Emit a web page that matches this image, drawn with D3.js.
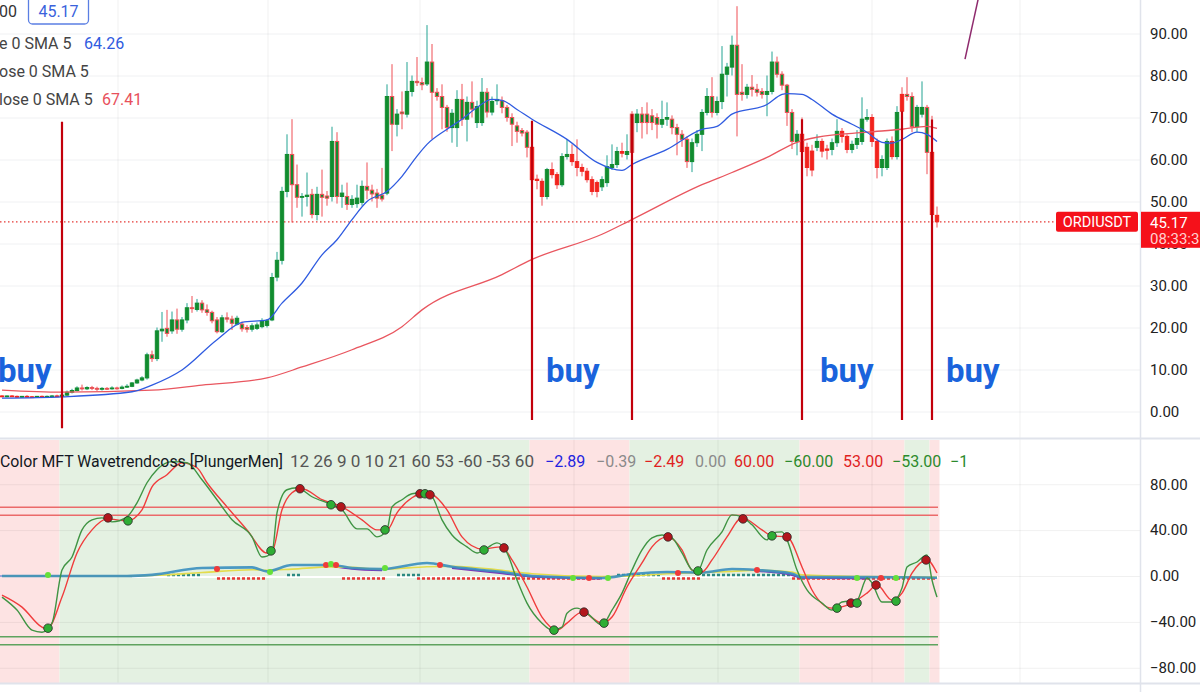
<!DOCTYPE html>
<html><head><meta charset="utf-8">
<script src="https://cdn.jsdelivr.net/npm/d3@7"></script>
<style>
html,body{margin:0;padding:0;background:#fff;overflow:hidden;}
svg{display:block;font-family:Roboto,"Liberation Sans",Arial,sans-serif;}
</style></head><body>
<svg id="c" width="1200" height="692"></svg>
<script>
// ---------------- DATA ----------------
const symbol = "ORDIUSDT";
const lastPrice = 45.17;
const countdown = "08:33:3";
const smaFastLast = 64.26, smaSlowLast = 67.41;
const priceTicks = [0,10,20,30,40,50,60,70,80,90];
const oscTicks = [-80,-40,0,40,80];
const timeGridIdx = [23.2,53.2,83.6,114.4,143.2,174,203.6];

const open  = [3.7,3.6,3.7,3.6,3.5,3.6,3.5,3.4,3.6,3.5,3.6,3.7,3.6,3.9,4.6,5.0,5.6,5.4,5.7,5.5,5.3,5.5,5.4,5.6,5.5,5.8,6.0,6.8,7.5,8.0,
13.5,12.6,19.2,19.8,19.2,21.8,19.6,21.8,24.7,24.3,25.8,24.2,23.6,21.8,19.0,22.3,22.0,20.8,20.8,20.0,19.6,19.8,20.2,20.5,21.8,32.0,36.0,52.4,61.2,54.0,
51.0,51.2,51.7,46.9,51.7,51.3,51.2,64.3,51.2,51.2,49.3,49.5,49.8,53.6,52.7,52.0,51.5,52.0,75.0,68.4,71.3,70.8,76.2,78.6,78.3,78.0,83.2,76.0,75.0,72.4,
67.6,67.6,74.3,69.6,73.6,68.8,68.8,76.0,71.3,74.0,74.0,72.4,70.0,68.0,66.9,66.5,62.9,55.3,54.8,51.2,57.6,56.4,54.0,60.7,61.2,59.5,58.1,57.2,55.2,54.5,
53.5,54.5,58.1,58.8,61.9,61.2,70.8,68.8,70.8,70.8,70.4,70.0,68.4,69.6,69.6,67.6,66.0,64.8,59.5,64.0,66.0,71.2,75.0,71.2,73.8,80.3,82.0,87.2,76.0,75.5,
77.2,76.7,76.2,75.5,76.2,83.2,80.3,77.7,71.2,64.3,66.0,62.9,62.0,62.9,64.3,62.5,62.4,64.0,66.7,65.5,62.4,63.6,64.3,69.6,70.0,64.3,58.1,58.1,64.3,60.7,
75.5,75.5,75.0,67.8,70.8,72.4,61.7,46.7];
const high  = [3.9,3.8,3.9,3.8,3.7,3.9,3.7,3.7,3.8,3.8,3.9,4.0,6.3,5.0,5.4,6.0,6.4,6.0,6.1,5.9,5.8,5.8,6.0,5.9,6.2,6.5,7.0,7.8,8.4,14.0,
14.5,20.0,23.7,24.2,23.8,24.5,22.5,25.8,27.5,26.8,26.5,25.5,24.0,22.5,23.0,23.6,22.8,22.8,21.4,20.6,21.0,21.2,22.2,22.0,33.0,38.0,53.5,66.0,69.6,58.8,
52.0,56.9,53.0,53.5,57.6,52.5,67.8,66.5,54.0,54.5,51.5,54.0,55.0,59.3,54.0,53.0,58.0,77.9,82.7,72.0,76.2,83.2,80.0,84.4,79.5,92.0,87.5,77.0,77.9,73.0,
72.0,76.5,78.0,75.0,78.6,74.0,79.4,77.0,75.0,77.9,75.0,73.0,71.0,69.0,67.5,67.0,63.5,56.4,55.5,58.0,59.3,57.0,61.5,64.8,63.6,64.8,59.0,58.0,56.0,55.0,
56.0,61.0,63.6,63.0,64.0,66.0,71.5,72.0,72.5,73.6,72.0,71.0,74.0,73.6,70.5,68.5,67.0,65.5,65.0,67.0,72.0,77.0,79.6,75.0,87.0,83.0,89.5,96.5,82.7,78.0,
80.1,78.0,77.0,80.0,85.7,84.5,81.0,78.0,72.0,67.0,70.0,64.0,63.5,66.0,65.0,63.5,65.0,69.6,67.5,66.0,64.5,67.0,74.8,72.0,70.8,65.0,61.0,65.0,65.5,72.7,
77.2,79.6,76.0,73.0,78.6,73.0,70.4,48.8];
const low   = [3.4,3.4,3.5,3.3,3.3,3.4,3.2,3.3,3.4,3.3,3.4,3.5,2.7,3.7,4.3,4.8,5.0,5.1,5.1,4.9,5.0,5.1,5.2,5.2,5.3,5.6,5.8,6.6,7.2,7.6,
11.8,12.0,16.6,17.8,18.5,18.5,19.0,21.0,23.5,23.8,23.5,22.8,21.0,18.6,18.7,21.2,19.4,20.5,19.0,18.8,19.0,19.4,19.8,20.0,21.5,31.0,35.0,51.0,45.0,48.5,
46.4,48.8,46.0,45.5,46.4,49.0,50.0,49.5,48.5,48.0,48.5,48.5,49.0,50.5,50.0,48.5,50.0,51.5,62.0,65.5,67.2,70.0,75.0,77.5,76.5,77.5,64.8,74.0,67.2,66.6,
64.0,63.0,68.0,64.3,70.0,67.5,68.0,70.0,70.5,73.0,71.0,69.0,63.2,64.0,65.5,60.5,54.5,52.9,49.0,50.5,55.5,53.0,53.5,60.0,58.5,56.0,56.0,54.5,51.5,51.0,
52.5,53.5,57.5,58.0,60.5,60.0,61.0,66.5,65.0,66.0,67.0,65.0,67.5,68.0,66.0,61.0,63.0,58.0,57.0,63.0,62.0,70.5,70.0,70.5,72.0,75.0,80.0,65.5,74.0,74.5,
75.0,75.0,74.5,70.3,75.5,79.5,76.5,68.0,62.5,61.0,55.5,56.0,56.0,62.0,60.5,60.0,61.0,63.0,64.0,61.5,61.5,62.5,63.5,69.0,63.0,55.5,56.0,57.5,60.0,60.0,
70.0,74.0,66.5,66.5,70.0,56.5,46.0,43.8];
const close = [3.6,3.7,3.6,3.5,3.6,3.5,3.4,3.6,3.5,3.6,3.7,3.6,3.9,4.6,5.0,5.6,5.4,5.7,5.5,5.3,5.5,5.4,5.6,5.5,5.8,6.0,6.8,7.5,8.0,13.5,
12.6,19.2,19.6,18.6,21.8,19.6,21.8,24.7,24.5,25.8,24.2,23.6,21.6,19.0,22.3,22.0,21.0,22.2,19.7,19.6,20.4,20.6,21.5,21.6,31.9,36.0,52.4,61.2,54.0,51.0,
51.2,51.5,46.9,51.7,51.0,50.8,64.3,51.2,52.0,49.3,50.5,50.8,53.6,52.7,51.8,50.8,50.6,75.0,68.4,70.8,70.9,76.2,78.6,78.3,77.8,83.2,76.0,75.0,72.4,67.6,
71.0,74.3,69.6,73.6,72.0,72.6,76.0,71.3,73.8,74.3,72.4,70.0,68.4,66.7,66.3,62.9,55.2,55.0,51.2,57.6,56.4,54.0,60.7,61.2,59.5,58.1,57.2,55.2,52.4,52.4,
55.2,58.3,58.8,61.9,61.5,61.9,61.7,70.8,68.8,68.8,68.8,68.4,69.5,70.0,67.6,66.0,64.8,59.5,64.0,66.0,71.2,75.0,71.2,73.8,80.3,82.0,87.2,75.5,75.5,77.2,
76.7,76.0,75.5,76.2,83.2,80.3,77.7,71.2,64.3,66.0,61.9,58.1,57.5,64.3,62.0,62.2,64.0,66.7,65.5,62.4,63.6,65.0,69.6,70.0,64.3,58.1,60.0,64.3,60.7,71.2,
71.5,75.0,67.8,72.4,72.4,61.7,46.9,45.17];

// trend regime (zone switches, candle index) and buy markers
const zoneStart = [0,12,106,126,160,181,186];
const zoneType  = ["bear","bull","bear","bull","bear","bull","bear"];
const buyIdx    = [12,106,126,160,180,186];
const buyTop    = [69.0,69.2,70.8,69.6,71.5,69.5];
const buyBottom = [-4,-2,-2,-2,-2,-2];
const buyLabelIdx = [-0.8,108.8,163.6,188.8];

// moving averages (sampled at candle indices)
const smaFastIdx = [0,12,26,30,36,43,48,53,56,60,64,67,70,73,77,80,83,85,89,92,95,98,100,103,106,113,119,124,126,133,140,143,146,153,156,157,160,162,166,170,173,176,178,180,183,185,187];
const smaFastVal = [3.2,3.5,4.7,6.3,9.9,17.1,21.2,21.8,25.8,30.6,37.3,40.9,45.7,50.0,52.4,56.0,60.8,63.6,67.2,69.6,72.4,74.3,74.1,71.9,69.6,64.8,59.3,57.4,58.8,62.4,67.2,67.9,70.8,73.1,75.5,75.7,75.5,74.3,70.8,68.4,66.5,64.1,63.9,64.8,66.5,66.0,64.3];
const smaSlowIdx = [0,12,30,40,53,60,70,80,84,100,106,120,126,140,146,153,159,163,173,180,185,187];
const smaSlowVal = [5.1,4.6,5.1,6.3,8.0,10.6,14.7,20.2,24.2,32.6,36.2,42.2,45.7,54.0,56.9,60.5,64.1,65.3,66.5,67.2,67.9,67.4];

// user trend line (candle index, price)
const trendIdx = [192.6,195.2];
const trendVal = [83.9,98.0];

// oscillator: WaveTrend lines
const wt1Idx = [0,3,6,8,10,12,14,16,18,20,22,25,27,29,31,34,37,40,43,46,50,52,54,55,57,59,62,66,68,71,73,75,77,78,80,82,84,86,88,90,93,95,97,99,101,103,105,108,110,112,113,115,117,120,122,124,126,128,130,132,134,136,138,139,141,144,146,148,150,153,154,156,157,159,161,164,166,168,171,173,174,176,178,180,181,183,185,186,187];
const wt1Val = [-18.4,-29.7,-47.2,-49,-41,5.2,16.6,40.2,49,50.7,47.2,51.6,63.8,81.3,92.7,99.7,98.8,83.9,66.5,49,34.1,16.6,20.1,55.1,75.2,76.9,69.1,62.1,57.7,41.1,41.1,34.1,40.2,60.3,66.5,71.7,72.6,69.1,49,35.8,25.4,20.1,24.5,28.9,20.1,-3.5,-23.6,-41.1,-47.2,-44.6,-32.4,-28,-32.4,-42.8,-29.7,-14.9,5.2,22.7,33.2,35.8,33.2,20.1,5.2,3.5,22.7,38.5,53.3,51.6,44.6,31.5,37.6,38.5,31.5,5.2,-12.2,-23.6,-29.7,-22.7,-21,-1.7,-6.1,-22.7,-22.7,-10.5,7.9,12.2,18.4,-3.5,-18.4];
const wt2Idx = [0,4,8,9,12,15,18,21,25,28,30,33,36,39,41,45,49,53,54,56,58,60,64,68,72,75,77,79,82,84,86,89,92,96,100,102,105,108,111,113,116,120,122,125,128,130,133,136,138,140,142,145,148,152,154,157,160,162,166,170,173,175,178,180,182,185,187];
const wt2Val = [-16.6,-27.1,-44.6,-46.3,-18.4,20.1,40.2,49.8,48.1,57.7,77.8,88.3,98.8,94.4,81.3,60.3,40.2,20.1,21,57.7,72.6,76.1,66.5,60.3,49,40.2,40.2,55.1,68.2,71.7,70.8,57.7,34.1,23.6,25.4,14,-9.6,-35.8,-47.2,-41.1,-31.5,-41.1,-35.8,-9.6,11.4,25.4,34.1,22.7,5.2,3.5,14,34.1,50.7,40.2,35,34.1,7.9,-12.2,-28,-23.6,-14.9,-7.9,-21,-14.9,2.6,14,2.6];
const crossIdx  = [9.2,21.2,25.2,53.8,59.6,65.8,67.8,76.6,83.6,84.6,85.6,96.4,100.4,110.4,116.4,120.4,133.2,139.2,148.2,154,157,167,169.8,171,174.8,178.8,184.8];
const crossVal  = [-45.5,50.7,48.1,21.9,76.1,62.1,60.3,40.2,71.7,71.7,70.8,22.7,24.5,-47.2,-31.5,-41.1,34.1,4.4,49.8,35,34.1,-28,-23.6,-23.6,-7.9,-21.9,14];
const crossType = ["up","dn","up","up","dn","up","dn","up","dn","up","dn","up","dn","up","dn","up","dn","up","dn","up","dn","up","dn","up","dn","up","dn"];
const obLevels = [60,53];
const osLevels = [-53,-60];

// oscillator: money-flow lines near zero
const mfIdx    = [0,25,30,40,50,53,58,66,70,76,85,90,100,106,120,126,133,140,146,151,158,160,173,187];
const mfTeal   = [0,0,1,7,7.5,4,9.6,9.6,7,6,11.4,8,3.5,0,-1.7,1.7,3.5,3,6.1,5.2,2,-1,-1,-1.5];
const mfYellow = [0,0,0.5,3,5.5,5,6,8,7.5,6,8,8.5,5,2,-0.5,0,2,3,4,5,3.5,1,-0.5,-1];
const mfPurple = [null,null,null,null,null,null,null,8.5,6.5,5,null,7,2.5,-0.5,-2,null,null,null,null,4.5,1,-1.5,-2,null];
const mfSigIdx  = [9.2,43,53.6,64.8,65.8,66.8,76.6,87.6,114.2,117.4,121.2,135.2,151,171,175.8,178.8];
const mfSigVal  = [0.9,6.1,3.5,9.6,10.5,9.6,7,9.6,-1.7,-1.7,-1.7,2.6,5.2,-1.7,-1.7,-1.7];
const mfSigType = ["up","dn","up","dn","up","dn","up","dn","up","dn","up","dn","dn","up","dn","up"];
const histFrom = [33,43,57,68,79,83,123,132,140,158];
const histTo   = [40,53,60,77,84,120,132,140,158,187];
const histSign = [1,-1,1,-1,1,-1,1,-1,1,-1];

// legends
const smaLegend = ["e 0 SMA 5","ose 0 SMA 5","lose 0 SMA 5"];
const oscName = "Color MFT Wavetrendcoss [PlungerMen]";
const oscParams = "12 26 9 0 10 21 60 53 -60 -53 60";
const oscValues = ["\u22122.89","\u22120.39","\u22122.49","0.00","60.00","\u221260.00","53.00","\u221253.00","\u22121"];
const oscValueKind = ["blue","gray","red","gray","red","green","red","green","green"];

// ---------------- DRAW ----------------
const svg = d3.select("#c");
const x  = d3.scaleLinear().domain([0,187]).range([2,937]);
const y  = d3.scaleLinear().domain([0,90]).range([411.5,33.5]);
const yo = d3.scaleLinear().domain([-80,80]).range([667.75,484.25]);
const fmt = d3.format(".2f");
const PLOT_R = 1140;

svg.append("rect").attr("width",1200).attr("height",692).attr("fill","#fff");

// oscillator background bands
const zoneEnd = zoneStart.slice(1).concat([188]);
svg.append("g").selectAll("rect").data(zoneStart).join("rect")
  .attr("x", d => Math.max(0, x(d) - 2.5))
  .attr("width", (d,k) => x(zoneEnd[k]) - 2.5 - Math.max(0, x(d) - 2.5))
  .attr("y", 440).attr("height", 243)
  .attr("fill", (d,k) => zoneType[k] === "bull" ? "#e4f1e2" : "#fde3e3");

// grid: horizontal
svg.append("g").attr("transform",`translate(${PLOT_R},0)`)
  .call(d3.axisLeft(y).tickValues(priceTicks).tickSize(PLOT_R).tickFormat(""))
  .call(g => g.select(".domain").remove())
  .selectAll("line").attr("stroke","#f0f1f3");
svg.append("g").attr("transform",`translate(${PLOT_R},0)`)
  .call(d3.axisLeft(yo).tickValues(oscTicks).tickSize(PLOT_R).tickFormat(""))
  .call(g => g.select(".domain").remove())
  .selectAll("line").attr("stroke","rgba(0,0,0,0.06)");
// grid: vertical (time)
svg.append("g").selectAll("line").data(timeGridIdx).join("line")
  .attr("x1", d => x(d)).attr("x2", d => x(d)).attr("y1", 0).attr("y2", 683)
  .attr("stroke","rgba(0,0,0,0.06)");

// pane separators & axis border
svg.append("line").attr("x1",0).attr("x2",1200).attr("y1",438.5).attr("y2",438.5).attr("stroke","#e0e3eb").attr("stroke-width",2);
svg.append("line").attr("x1",0).attr("x2",1200).attr("y1",683.5).attr("y2",683.5).attr("stroke","#e0e3eb").attr("stroke-width",2);
svg.append("line").attr("x1",PLOT_R+0.5).attr("x2",PLOT_R+0.5).attr("y1",0).attr("y2",692).attr("stroke","#e0e3eb").attr("stroke-width",1.5);

// right axes
function styleAxis(g){
  g.select(".domain").remove();
  g.selectAll("text").attr("font-size","15px").attr("fill","#222").attr("font-family","Roboto, 'Liberation Sans', sans-serif");
}
svg.append("g").attr("transform",`translate(${PLOT_R},0)`)
  .call(d3.axisRight(y).tickValues(priceTicks).tickFormat(fmt).tickSize(0).tickPadding(10)).call(styleAxis);
svg.append("g").attr("transform",`translate(${PLOT_R},0)`)
  .call(d3.axisRight(yo).tickValues(oscTicks).tickFormat(fmt).tickSize(0).tickPadding(10)).call(styleAxis);
svg.append("text").attr("x",1150).attr("y",yo(-80)+45).attr("font-size","15px").attr("fill","#222").text("200.00");

// price line
svg.append("line").attr("x1",0).attr("x2",1056).attr("y1",y(lastPrice)).attr("y2",y(lastPrice))
  .attr("stroke","#e53935").attr("stroke-width",1.2).attr("stroke-dasharray","1.5,2.5");

// candles
const idx = d3.range(close.length);
function zoneOf(i){ let k=0; for(let j=0;j<zoneStart.length;j++){ if(i>=zoneStart[j]) k=j; } return zoneType[k]; }
const GREEN="#118c2f", GWICK="#23a392", RED="#f2231d", RWICK="#ef4f55";
const cg = svg.append("g");
cg.selectAll("line").data(idx).join("line")
  .attr("x1", i => x(i)).attr("x2", i => x(i))
  .attr("y1", i => y(high[i])).attr("y2", i => y(low[i]))
  .attr("stroke", i => close[i] >= open[i] ? GWICK : RWICK).attr("stroke-width",1);
cg.selectAll("rect").data(idx).join("rect")
  .attr("x", i => x(i) - 1.7).attr("width", 3.4)
  .attr("y", i => y(Math.max(open[i], close[i])))
  .attr("height", i => Math.max(0.8, Math.abs(y(open[i]) - y(close[i]))))
  .attr("fill", i => close[i] >= open[i] ? GREEN : (zoneOf(i) === "bull" ? GREEN : RED))
  .attr("stroke", i => close[i] >= open[i] ? GREEN : (zoneOf(i) === "bull" ? RWICK : RED))
  .attr("stroke-width", 1);

// SMAs
const smaLine = d3.line().curve(d3.curveMonotoneX);
svg.append("path").attr("d", smaLine(smaSlowIdx.map((d,k)=>[x(d), y(smaSlowVal[k])])))
  .attr("fill","none").attr("stroke","#e9565f").attr("stroke-width",1.3);
svg.append("path").attr("d", smaLine(smaFastIdx.map((d,k)=>[x(d), y(smaFastVal[k])])))
  .attr("fill","none").attr("stroke","#2f5be0").attr("stroke-width",1.3);

// buy lines & labels
svg.append("g").selectAll("line").data(buyIdx).join("line")
  .attr("x1", d => x(d)).attr("x2", d => x(d))
  .attr("y1", (d,k) => y(buyTop[k])).attr("y2", (d,k) => y(buyBottom[k]))
  .attr("stroke","#c2000b").attr("stroke-width",2.2);
svg.append("g").selectAll("text").data(buyLabelIdx).join("text")
  .attr("x", d => x(d)).attr("y", 382)
  .attr("font-size","33px").attr("font-weight","bold").attr("fill","#1a63dc").text("buy");

// trend line
svg.append("line").attr("x1", x(trendIdx[0])).attr("y1", y(trendVal[0]))
  .attr("x2", x(trendIdx[1])).attr("y2", y(trendVal[1]))
  .attr("stroke","#8e2a6d").attr("stroke-width",1.5);

// oscillator levels
svg.append("g").selectAll("line").data(obLevels).join("line")
  .attr("x1",0).attr("x2",938).attr("y1", d => yo(d)).attr("y2", d => yo(d))
  .attr("stroke","#eb6a6a").attr("stroke-width",1.6);
svg.append("g").selectAll("line").data(osLevels).join("line")
  .attr("x1",0).attr("x2",938).attr("y1", d => yo(d)).attr("y2", d => yo(d))
  .attr("stroke","#5fa35f").attr("stroke-width",1.6);

// zero baseline
svg.append("line").attr("x1",0).attr("x2",x(26)).attr("y1",yo(0)).attr("y2",yo(0)).attr("stroke","#9aa4dc").attr("stroke-width",2);
svg.append("line").attr("x1",x(26)).attr("x2",938).attr("y1",yo(0)+1).attr("y2",yo(0)+1).attr("stroke","#ffffff").attr("stroke-width",2);
// histogram dashes
svg.append("g").selectAll("line").data(histFrom).join("line")
  .attr("x1", d => x(d)).attr("x2", (d,k) => x(histTo[k]))
  .attr("y1", (d,k) => histSign[k] > 0 ? yo(0) - 1 : yo(0) + 2.5)
  .attr("y2", (d,k) => histSign[k] > 0 ? yo(0) - 1 : yo(0) + 2.5)
  .attr("stroke", (d,k) => histSign[k] > 0 ? "#2c8a82" : "#e53935")
  .attr("stroke-width", 2.5).attr("stroke-dasharray","3,2");

// money flow lines
const mfLine = d3.line().defined(d => d[1] !== null).curve(d3.curveMonotoneX)
  .x(d => x(d[0])).y(d => yo(d[1]));
svg.append("path").attr("d", mfLine(mfIdx.map((d,k)=>[d, mfPurple[k]])))
  .attr("fill","none").attr("stroke","#7b35b8").attr("stroke-width",2.2);
svg.append("path").attr("d", mfLine(mfIdx.map((d,k)=>[d, mfYellow[k]])))
  .attr("fill","none").attr("stroke","#e4dc4c").attr("stroke-width",1.6);
svg.append("path").attr("d", mfLine(mfIdx.map((d,k)=>[d, mfTeal[k]])))
  .attr("fill","none").attr("stroke","#3a8fbf").attr("stroke-width",2.6).attr("opacity",0.9);
svg.append("g").selectAll("circle").data(mfSigIdx).join("circle")
  .attr("cx", d => x(d)).attr("cy", (d,k) => yo(mfSigVal[k])).attr("r", 3)
  .attr("fill", (d,k) => mfSigType[k] === "up" ? "#66e03a" : "#f03a3a");

// wavetrend lines
const wtLine = d3.line().curve(d3.curveMonotoneX);
svg.append("path").attr("d", wtLine(wt2Idx.map((d,k)=>[x(d), yo(wt2Val[k])])))
  .attr("fill","none").attr("stroke","#f03c3c").attr("stroke-width",1.4);
svg.append("path").attr("d", wtLine(wt1Idx.map((d,k)=>[x(d), yo(wt1Val[k])])))
  .attr("fill","none").attr("stroke","#3f9443").attr("stroke-width",1.4);
svg.append("g").selectAll("circle").data(crossIdx).join("circle")
  .attr("cx", d => x(d)).attr("cy", (d,k) => yo(crossVal[k])).attr("r", 4.3)
  .attr("fill", (d,k) => crossType[k] === "up" ? "#2fae35" : "#b3161c")
  .attr("stroke","#2a2a2a").attr("stroke-width",0.8);

// oscillator legend
const lg = svg.append("g").attr("font-size","16px");
lg.append("text").attr("x",0).attr("y",467).attr("fill","#131722")
  .attr("textLength",283).attr("lengthAdjust","spacingAndGlyphs").text(oscName);
lg.append("text").attr("x",290).attr("y",467).attr("fill","#555")
  .attr("textLength",244).attr("lengthAdjust","spacingAndGlyphs").text(oscParams);
const valX = [545,596,644,695,734,784,843,892,950];
const kindColor = {blue:"#2323e0", gray:"#8a8a8a", red:"#e01f1f", green:"#2c8a2c"};
svg.append("clipPath").attr("id","lgclip").append("rect").attr("x",0).attr("y",440).attr("width",967).attr("height",40);
lg.append("g").attr("clip-path","url(#lgclip)").selectAll("text").data(oscValues).join("text")
  .attr("x",(d,k)=>valX[k]).attr("y",467).attr("fill",(d,k)=>kindColor[oscValueKind[k]]).text(d=>d);

// main legend (top-left)
const tl = svg.append("g").attr("font-size","16px");
tl.append("text").attr("x",-1).attr("y",17).attr("fill","#333").text("00");
tl.append("rect").attr("x",28.5).attr("y",-4).attr("width",60).attr("height",28).attr("rx",4)
  .attr("fill","#fff").attr("stroke","#5b7fe3").attr("stroke-width",1.3);
tl.append("text").attr("x",58.5).attr("y",17).attr("text-anchor","middle").attr("fill","#3a62dc").text(fmt(lastPrice));
tl.append("text").attr("x",-1).attr("y",49).attr("fill","#444").text(smaLegend[0]);
tl.append("text").attr("x",84).attr("y",49).attr("fill","#2f5be0").text(fmt(smaFastLast));
tl.append("text").attr("x",-1).attr("y",77).attr("fill","#444").text(smaLegend[1]);
tl.append("text").attr("x",-1).attr("y",105).attr("fill","#444").text(smaLegend[2]);
tl.append("text").attr("x",102).attr("y",105).attr("fill","#e8505b").text(fmt(smaSlowLast));

// price labels
const py = y(lastPrice);
svg.append("rect").attr("x",1056).attr("y",py-10).attr("width",82).attr("height",20).attr("rx",2).attr("fill","#f5111a");
svg.append("text").attr("x",1097).attr("y",py+5).attr("text-anchor","middle").attr("font-size","14.5px").attr("fill","#fff").text(symbol);
svg.append("rect").attr("x",1141).attr("y",py-10).attr("width",59).attr("height",36).attr("fill","#f5111a");
svg.append("text").attr("x",1150).attr("y",py+6).attr("font-size","15px").attr("fill","#fff").text(fmt(lastPrice));
svg.append("text").attr("x",1150).attr("y",py+22).attr("font-size","15px").attr("fill","#ffd0d0").text(countdown);
</script></body></html>
